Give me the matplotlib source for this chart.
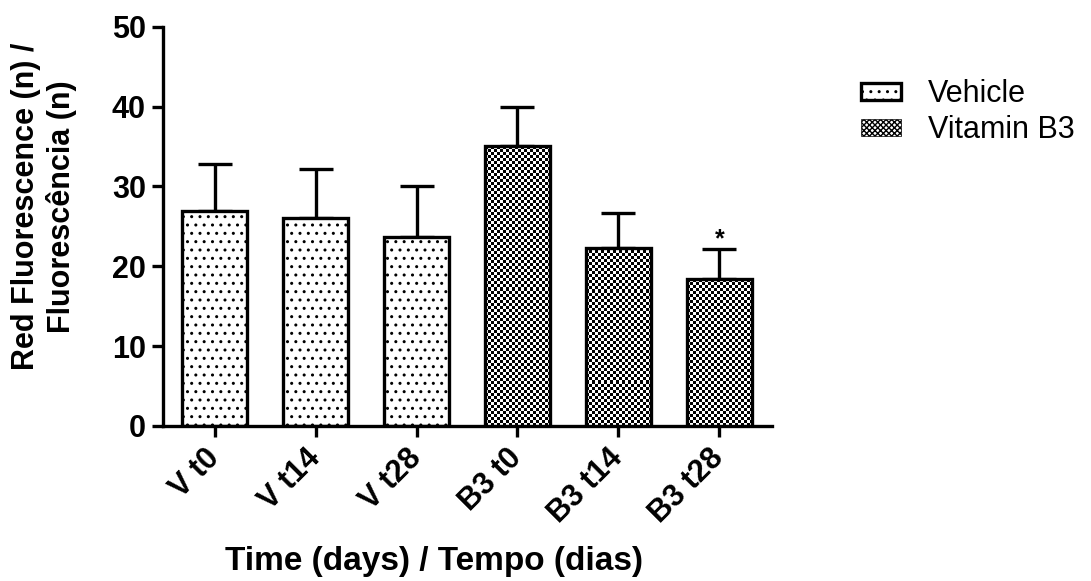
import numpy as np
import matplotlib
matplotlib.use("Agg")
import matplotlib.pyplot as plt
from matplotlib.patches import Patch

plt.rcParams['font.family'] = ['Liberation Sans', 'DejaVu Sans']
plt.rcParams['hatch.linewidth'] = 1.0

# data
groups = ["V t0", "V t14", "V t28", "B3 t0", "B3 t14", "B3 t28"]
means = [26.9, 26.1, 23.7, 35.0, 22.3, 18.4]
sems = [5.9, 6.1, 6.4, 5.0, 4.4, 3.7]
treatment = ["Vehicle", "Vehicle", "Vehicle", "Vitamin B3", "Vitamin B3", "Vitamin B3"]
signif = ["", "", "", "", "", "*"]

fig = plt.figure(figsize=(10.91, 5.81), dpi=100)
ax = fig.add_axes([0.149, 0.267, 0.559, 0.687])

x = np.arange(len(groups))
w = 0.645
lw = 2.4

# error bars (upper only), drawn behind the bars
ax.errorbar(x, means, yerr=[np.zeros(len(sems)), sems], fmt='none',
            ecolor='black', elinewidth=lw, capsize=12, capthick=lw, zorder=1)

for i in range(len(groups)):
    if treatment[i] == "Vehicle":
        ax.bar(x[i], means[i], w, facecolor='white', edgecolor='black',
               hatch='..', linewidth=lw, zorder=2)
    else:
        bg = ax.bar(x[i], means[i], w, facecolor='white', edgecolor='none', zorder=2)[0]
        # checkerboard fill, ~3 px squares
        ncol = 22
        nrow = int(round(means[i] * 7.98 / 3.0))
        chk = (np.add.outer(np.arange(nrow), np.arange(ncol)) % 2).astype(float)
        im = ax.imshow(chk, cmap='gray', extent=(x[i] - w / 2, x[i] + w / 2, 0, means[i]),
                       aspect='auto', interpolation='nearest', zorder=3)
        im.set_clip_path(bg)
        ax.bar(x[i], means[i], w, facecolor='none', edgecolor='black',
               linewidth=lw, zorder=4)
    if signif[i]:
        ax.text(x[i], means[i] + sems[i] - 0.2, signif[i], ha='center', va='bottom',
                fontsize=18, fontweight='bold')

ax.set_xlim(-0.516, 5.526)
ax.set_ylim(0, 50)
ax.set_yticks([0, 10, 20, 30, 40, 50])
ax.set_xticks(x)
ax.set_xticklabels(groups, rotation=45, ha='right', va='center', rotation_mode='anchor',
                   fontsize=22, fontweight='bold')
for lab in ax.get_yticklabels():
    lab.set_fontsize(22)
    lab.set_fontweight('bold')

for s in ['top', 'right']:
    ax.spines[s].set_visible(False)
for s in ['left', 'bottom']:
    ax.spines[s].set_linewidth(lw)
ax.tick_params(axis='both', width=lw, length=8, pad=4)
ax.tick_params(axis='x', pad=12)

ax.set_ylabel("Red Fluorescence (n) /\nFluorescência (n)", fontsize=22,
              fontweight='bold')
ax.yaxis.set_label_coords(-0.14, 0.55)
ax.set_xlabel("Time (days) / Tempo (dias)", fontsize=24, fontweight='bold', labelpad=14)
ax.xaxis.set_label_coords(0.445, -0.3)
ax.xaxis.label.set_va('top')

handles = [Patch(facecolor='white', edgecolor='black', hatch='..', linewidth=lw),
           Patch(facecolor='white', edgecolor='black', hatch='xxxxxx', linewidth=0.5)]
fig.legend(handles, ["Vehicle", "Vitamin B3"], loc='upper left',
           bbox_to_anchor=(0.775, 0.89), frameon=False, fontsize=22, borderpad=0,
           handlelength=1.3, handleheight=0.5, handletextpad=0.9, labelspacing=0.2)

fig.savefig("out.png", dpi=100)
